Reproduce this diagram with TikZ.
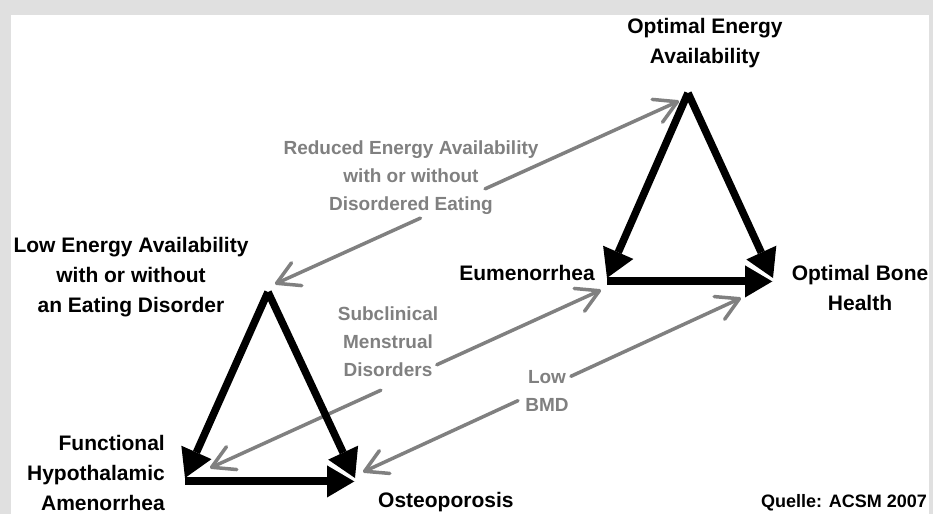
\documentclass[tikz,border=0pt]{standalone}
\usepackage{fontspec}
\setmainfont{Liberation Sans}
\usetikzlibrary{arrows.meta}
\definecolor{framegray}{RGB}{224,224,224}
\definecolor{labelgray}{RGB}{128,128,128}

\begin{document}
\begin{tikzpicture}[x=1pt, y=-1pt,
  every node/.style={inner sep=0pt},
  mainlabel/.style={font=\bfseries\fontsize{21}{30}\selectfont, align=center},
  sidelabel/.style={font=\bfseries\fontsize{19}{28}\selectfont, align=center, text=labelgray},
  bigarrow/.style={line width=7.5pt, -{Triangle[length=28pt, width=33pt, line width=0pt]}},
  grayarrow/.style={labelgray, line width=3.5pt, line cap=round,
    -{Straight Barb[length=22pt, width=25pt, round]}},
  gap/.style={white, line width=1.2pt}]
\fill[framegray] (0,0) rectangle (933,514);
\fill[white] (11,15) rectangle (929,514);
\useasboundingbox (0,0) rectangle (933,514);

% triangle corners
\coordinate (oea) at (688,93);
\coordinate (eum) at (607,281);
\coordinate (obh) at (773,281);
\coordinate (lea) at (268,292);
\coordinate (fha) at (185,481);
\coordinate (ost) at (355,481);

% labels
\node[mainlabel] (oeaText) at (705,43.5) {Optimal Energy\\Availability};
\node[mainlabel] (leaText) at (131,277.5) {Low Energy Availability\\with or without\\an Eating Disorder};
\node[mainlabel, anchor=base] (eumText) at (527,280) {Eumenorrhea};
\node[mainlabel] (obhText) at (860,288.4) {Optimal Bone\\Health};
\node[mainlabel, align=right, anchor=east] (fhaText) at (165,473.4) {Functional\\Hypothalamic\\Amenorrhea};
\node[mainlabel, anchor=base west] (ostText) at (378,507) {Osteoporosis};
\node[font=\bfseries\fontsize{18}{20}\selectfont, anchor=base east] (source) at (927,507) {Quelle: ACSM 2007};

\node[sidelabel] (redText) at (411,177.5) {Reduced Energy Availability\\with or without\\Disordered Eating};
\node[sidelabel] (subText) at (388,341.5) {Subclinical\\Menstrual\\Disorders};
\node[sidelabel] (bmdText) at (547,391) {Low\\BMD};

% gray double arrows, broken by their labels
\coordinate (redLow) at (275,284);
\coordinate (redHigh) at (679,101);
\path (redLow) -- (redHigh) coordinate[pos=.36] (redA) coordinate[pos=.52] (redB);
\draw[grayarrow] (redA) -- (redLow);
\draw[grayarrow] (redB) -- (redHigh);

\coordinate (subLow) at (210,468);
\coordinate (subHigh) at (601,290);
\path (subLow) -- (subHigh) coordinate[pos=.437] (subA) coordinate[pos=.58] (subB);
\draw[grayarrow] (subA) -- (subLow);
\draw[grayarrow] (subB) -- (subHigh);

\coordinate (bmdLow) at (363,472);
\coordinate (bmdHigh) at (741,298);
\path (bmdLow) -- (bmdHigh) coordinate[pos=.41] (bmdA) coordinate[pos=.55] (bmdB);
\draw[grayarrow] (bmdA) -- (bmdLow);
\draw[grayarrow] (bmdB) -- (bmdHigh);

% black triangles
\draw[bigarrow] (oea) -- ([yshift=3pt]eum);
\draw[bigarrow] (oea) -- ([yshift=3pt]obh);
\draw[bigarrow] (eum) -- (obh);
\draw[gap] ([shift={(-28pt,16.5pt)}]obh) -- (obh);

\draw[bigarrow] (lea) -- ([yshift=3pt]fha);
\draw[bigarrow] (lea) -- ([yshift=3pt]ost);
\draw[bigarrow] (fha) -- (ost);
\draw[gap] ([shift={(-28pt,16.5pt)}]ost) -- (ost);
\end{tikzpicture}
\end{document}
